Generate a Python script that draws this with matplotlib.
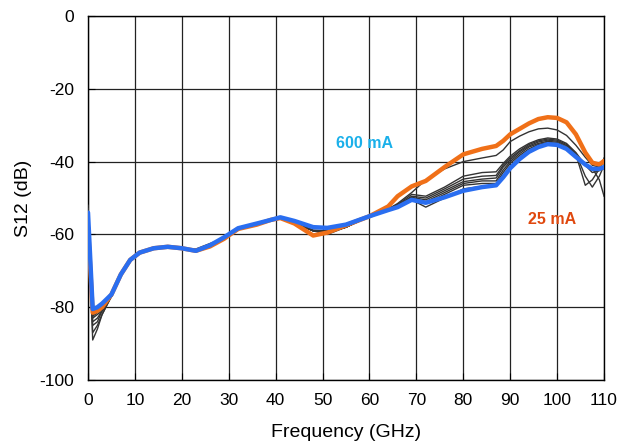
import matplotlib
matplotlib.use("Agg")
import matplotlib.pyplot as plt

plt.rcParams['font.family'] = ['Liberation Sans', 'DejaVu Sans']
plt.rcParams['axes.unicode_minus'] = False

freq = [0, 1, 2, 3, 5, 7, 9, 11, 14, 17, 20, 23, 26, 29, 32, 36, 39, 41, 44, 48, 51, 55,
        60, 64, 66, 69, 72, 76, 80, 84, 87, 88.5, 90, 92, 94, 96, 98, 100, 102, 104, 106,
        107.5, 109, 110]

s12_600mA = [-54, -80.5, -80, -79, -76.5, -71, -67, -65, -63.8, -63.4, -63.8, -64.5, -63, -60.8,
             -58.3, -57, -56, -55.3, -56.3, -58, -58.2, -57.3, -55, -53.3, -52.5, -50.5,
             -51.3, -49.8, -48, -47, -46.5, -44.3, -41.8, -39.3, -37.3, -36, -35.2, -35.4,
             -36.5, -38.7, -40.8, -42, -42, -41.5]

s12_25mA = [-58, -81.5, -81, -80, -76.5, -71, -67, -65, -63.8, -63.4, -63.8, -64.5, -63.3, -61.2,
            -58.5, -57.3, -56, -55.5, -57, -60.3, -59.5, -57.5, -55, -52.3, -49.5, -46.8,
            -45.3, -41.5, -38, -36.5, -35.7, -34.3, -32.5, -31, -29.5, -28.3, -27.8, -28,
            -29.2, -32.5, -37.5, -40.3, -40.8, -39.8]

s12_mid = [
    [-52, -89, -86, -82, -77, -71, -67, -65, -63.8, -63.4, -63.8, -64, -62.5, -61, -58.5, -57, -56,
     -55.5, -56.8, -58.8, -59, -57.8, -55, -53, -51.5, -48.5, -45, -42, -40, -39, -38.3, -36.8,
     -34.5, -33, -31.8, -31, -30.8, -31.3, -32.8, -35.5, -38.8, -41, -41.5, -40],
    [-53, -87, -85, -82, -77, -71, -67, -65, -63.8, -63.4, -63.8, -64.2, -62.8, -61, -58.5, -57, -56,
     -55.5, -56.8, -59, -59.5, -58, -55, -53, -51.8, -49, -49.5, -47, -44, -43, -42.8, -40.5,
     -38.5, -36.5, -35, -34, -33.5, -33.8, -35, -37.5, -41, -43, -42.5, -39],
    [-53, -85, -84, -81, -77, -71, -67, -65, -63.8, -63.4, -63.8, -64.3, -62.8, -61, -58.5, -57, -56,
     -55.5, -56.8, -59, -60, -58, -55, -53.2, -52, -49.5, -50, -47.5, -44.8, -44, -43.8, -41,
     -39, -37, -35.3, -34.3, -33.8, -34.1, -35.3, -37.8, -44, -47, -44, -41],
    [-53, -84, -83, -81, -77, -71, -67, -65, -63.8, -63.4, -63.8, -64.3, -63, -61, -58.5, -57, -56,
     -55.5, -56.8, -59, -59.5, -58, -55, -53.2, -52, -49.8, -50.5, -48, -45.5, -44.8, -44.5, -41.5,
     -39.5, -37.3, -35.7, -34.6, -34.1, -34.4, -35.6, -38, -46.5, -45, -42, -42],
    [-53, -83, -82, -81, -77, -71, -67, -65, -63.8, -63.4, -63.8, -64.4, -63, -61, -58.5, -57, -56,
     -55.5, -56.8, -59, -59.5, -58, -55, -53.3, -52.2, -50, -51, -48.5, -46, -45.3, -45.3, -42.3,
     -40, -37.8, -36, -35, -34.4, -34.7, -36, -38.3, -40.5, -41.8, -45, -49.5],
    [-53, -82.5, -81.5, -80.5, -77, -71, -67, -65, -63.8, -63.4, -63.8, -64.4, -63, -61, -58.5, -57, -56,
     -55.5, -56.8, -59, -59.5, -58, -55, -53.4, -52.4, -50.2, -51.5, -49, -46.5, -46, -46, -43,
     -40.5, -38.3, -36.5, -35.3, -34.7, -35, -36.2, -38.5, -40.8, -41.9, -42.3, -41],
    [-53, -82, -81, -80, -77, -71, -67, -65, -63.8, -63.4, -63.8, -64.5, -63, -61, -58.5, -57, -56,
     -55.5, -56.8, -59, -59.5, -58, -55, -53.5, -52.5, -50.5, -52.5, -50, -47.5, -46.8, -46.5, -43.8,
     -41.3, -38.8, -37, -35.7, -35, -35.2, -36.4, -38.6, -40.6, -42, -42.3, -41.5],
]

label_600 = "600 mA"
label_25 = "25 mA"

fig = plt.figure(figsize=(6.21, 4.45), dpi=100)
ax = fig.add_axes([0.1417, 0.146, 0.831, 0.818])

for ys in s12_mid:
    ax.plot(freq, ys, color='#333333', lw=1.0, zorder=3)
ax.plot(freq, s12_25mA, color='#f07018', lw=3.2, zorder=4,
        solid_capstyle='round', solid_joinstyle='round')
ax.plot(freq, s12_600mA, color='#2a6ef0', lw=3.2, zorder=5,
        solid_capstyle='round', solid_joinstyle='round')

ax.set_xlim(0, 110)
ax.set_ylim(-100, 0)
ax.set_xticks(range(0, 111, 10))
ax.set_yticks(range(-100, 1, 20))
ax.grid(True, color='#222222', lw=0.9)
ax.set_axisbelow(True)
ax.tick_params(direction='in', labelsize=12.5, length=5)
ax.tick_params(axis='x', pad=9)
ax.tick_params(axis='y', pad=10)
for s in ax.spines.values():
    s.set_linewidth(1.0)

ax.set_xlabel("Frequency (GHz)", fontsize=14, labelpad=12)
ax.set_ylabel("S12 (dB)", fontsize=14, labelpad=5)

ax.text(59, -35, label_600, color='#1ab0ea', fontsize=11.5, fontweight='bold',
        ha='center', va='center', zorder=6)
ax.text(99, -56, label_25, color='#e0480e', fontsize=11.5, fontweight='bold',
        ha='center', va='center', zorder=6)

fig.savefig("out.png", dpi=100)
